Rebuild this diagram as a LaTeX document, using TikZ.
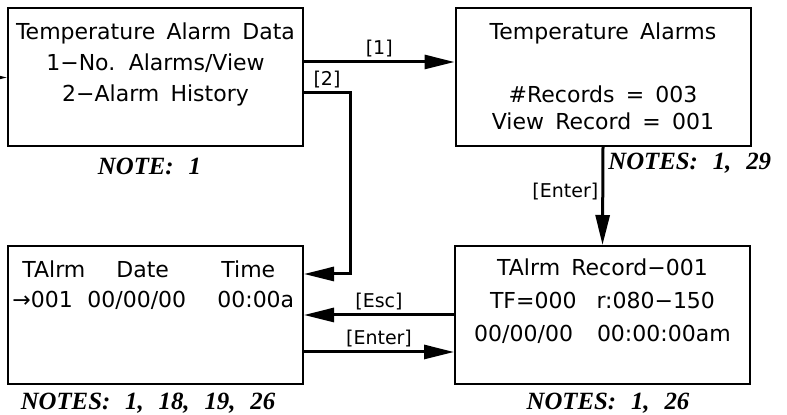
\documentclass[tikz,border=0pt]{standalone}
\usepackage{fontspec}
\setmainfont{Liberation Serif}
\newfontfamily\lcdfont[WordSpace=1.6]{DejaVu Sans}
\newfontfamily\notefont[WordSpace=2.4]{Liberation Serif}
\usetikzlibrary{arrows.meta,positioning}

\begin{document}
\begin{tikzpicture}[x=0.5pt,y=-0.5pt,
    screen/.style={draw,line width=1pt,minimum width=147.5pt,minimum height=69pt,inner sep=0pt},
    lcd/.style={font=\lcdfont\fontsize{11}{15.5}\selectfont,align=center,inner sep=0pt,anchor=north},
    key/.style={font=\lcdfont\fontsize{9.5}{10}\selectfont,inner sep=1.5pt},
    note/.style={font=\notefont\fontsize{12.4}{14}\selectfont\bfseries\itshape,inner sep=0pt},
    flow/.style={line width=1.5pt,-{Triangle[length=15pt,width=7pt]}}]
  \useasboundingbox (0,0) rectangle (787,415);
  \clip (0,0) rectangle (787,415);
  % screens
  \node[screen] (data) at (155.5,77.5) {};
  \node[screen] (count) at (603,77) {};
  \node[screen] (hist) at (155.5,315) {};
  \node[screen] (rec) at (602.5,315) {};
  % screen texts
  \node[lcd] at ([yshift=-7.6pt]data.north) {Temperature Alarm Data\\1−No. Alarms/View\\2−Alarm History};
  \node[lcd] at ([yshift=-7.6pt]count.north) {Temperature Alarms\\[16pt]\#Records = 003\\[-2pt]View Record = 001};
  \node[lcd,align=left,anchor=north west] at ([xshift=2.5pt,yshift=-7.8pt]hist.north west)
    {\makebox[52pt][l]{\hspace{5pt}TAlrm}\makebox[52.5pt][l]{Date}Time\\[-0.5pt]
     \makebox[37.5pt][l]{→001}\makebox[65pt][l]{00/00/00}00:00a};
  \node[lcd] at ([yshift=-6.8pt]rec.north) {TAlrm Record−001\\[1pt]TF=000\hspace{10pt}r:080−150\\[1pt]00/00/00\hspace{12pt}00:00:00am};
  % connectors
  \coordinate (entry) at (-30,77.5);
  \draw[flow] (entry) -- (data.west);
  \coordinate (k1) at ([yshift=7.75pt]data.east);
  \draw[flow] (k1) -- node[key,above]{[1]} (k1 -| count.west);
  \coordinate (k2) at ([yshift=-7.75pt]data.east);
  \draw[flow] (k2) -- node[key,above]{[2]} ++(23pt,0) |- ([yshift=20.5pt]hist.east);
  \draw[flow] (count.south) -- node[key,left,pos=0.45]{[Enter]} (rec.north);
  \draw[flow] (rec.west) -- node[key,above]{[Esc]} (hist.east);
  \draw[flow] ([yshift=-18.5pt]hist.east) -- node[key,above]{[Enter]} ([yshift=-18.5pt]rec.west);
  % notes
  \node[note,below=5pt of data,xshift=-3pt] (n1) {NOTE: 1};
  \node[note,anchor=north west] (n2) at ([xshift=2.5pt,yshift=-3pt]count.south) {NOTES: 1, 29};
  \node[note,below=4pt of hist,xshift=-3.75pt] (n3) {NOTES: 1, 18, 19, 26};
  \node[note,below=4pt of rec,xshift=2.75pt] (n4) {NOTES: 1, 26};
\end{tikzpicture}
\end{document}
